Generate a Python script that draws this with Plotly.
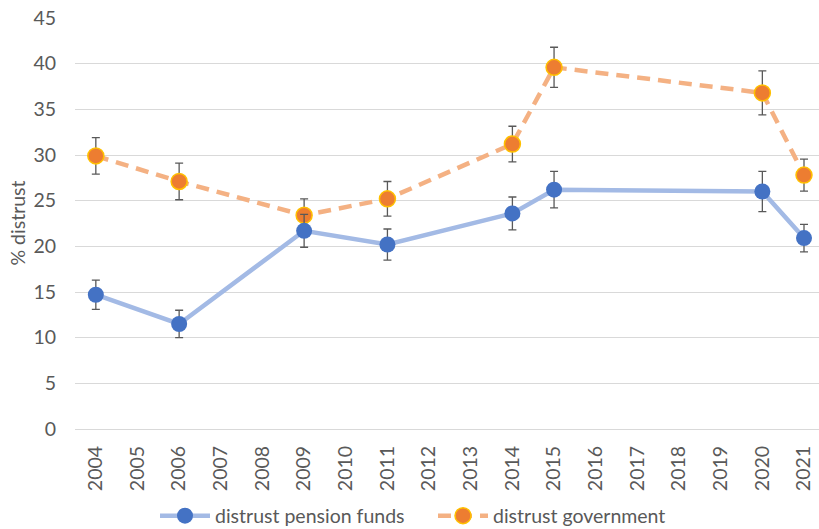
import plotly.graph_objects as go

# Survey years shown on the category axis
years = [str(y) for y in range(2004, 2022)]

# Years in which the survey was held
survey_years = ["2004", "2006", "2009", "2011", "2014", "2015", "2020", "2021"]

# % distrust of pension funds and its error margin
pension = [14.7, 11.5, 21.7, 20.2, 23.6, 26.2, 26.0, 20.9]
pension_err = [1.6, 1.5, 1.8, 1.7, 1.8, 2.0, 2.2, 1.5]

# % distrust of government and its error margin
government = [29.9, 27.1, 23.4, 25.2, 31.2, 39.6, 36.8, 27.8]
government_err = [2.0, 2.0, 1.8, 1.9, 1.95, 2.2, 2.4, 1.75]

FONT = "Lato"
FS = 19.5
GREY = "#595959"

fig = go.Figure()

fig.add_trace(go.Scatter(
    x=survey_years, y=government, name="distrust government",
    mode="lines+markers",
    line=dict(color="#F4B183", width=4.5, dash="13px,8px"),
    marker=dict(size=16, color="#ED7D31", line=dict(color="#FFC000", width=1.5)),
    error_y=dict(type="data", array=government_err, color=GREY, thickness=1.3, width=4),
))

fig.add_trace(go.Scatter(
    x=survey_years, y=pension, name="distrust pension funds",
    mode="lines+markers",
    line=dict(color="#A3BAE5", width=4.5),
    marker=dict(size=16, color="#4472C4"),
    error_y=dict(type="data", array=pension_err, color=GREY, thickness=1.3, width=4),
))

fig.update_layout(
    width=819, height=529,
    margin=dict(l=75, r=0, t=18, b=100, autoexpand=False),
    paper_bgcolor="white", plot_bgcolor="white",
    font=dict(family=FONT, size=FS, color=GREY),
    showlegend=True,
    legend=dict(
        orientation="h", traceorder="reversed",
        x=(155 - 75) / 744, xanchor="left",
        y=(429 - 516) / 411, yanchor="middle",
        font=dict(family=FONT, size=FS, color=GREY),
        itemwidth=50, entrywidth=213,
    ),
    xaxis=dict(
        type="category", categoryorder="array", categoryarray=years,
        tickvals=years, ticktext=years,
        range=[-0.5, 17.36],
        tickangle=-90, showgrid=False, showline=False, zeroline=False,
        ticks="", ticklabelstandoff=12,
        tickfont=dict(family=FONT, size=FS, color=GREY),
    ),
    yaxis=dict(
        range=[0, 45], dtick=5, tick0=0,
        showgrid=True, gridcolor="#D9D9D9", gridwidth=1,
        zeroline=True, zerolinecolor="#D9D9D9", zerolinewidth=1,
        showline=False, ticks="", ticklabelstandoff=18,
        tickfont=dict(family=FONT, size=FS, color=GREY),
    ),
    annotations=[dict(
        text="% distrust", xref="paper", yref="paper",
        x=(17 - 75) / 744, y=0.5, xanchor="center", yanchor="middle",
        textangle=-90, showarrow=False,
        font=dict(family=FONT, size=FS, color=GREY),
    )],
)

fig.write_html("out.html")
